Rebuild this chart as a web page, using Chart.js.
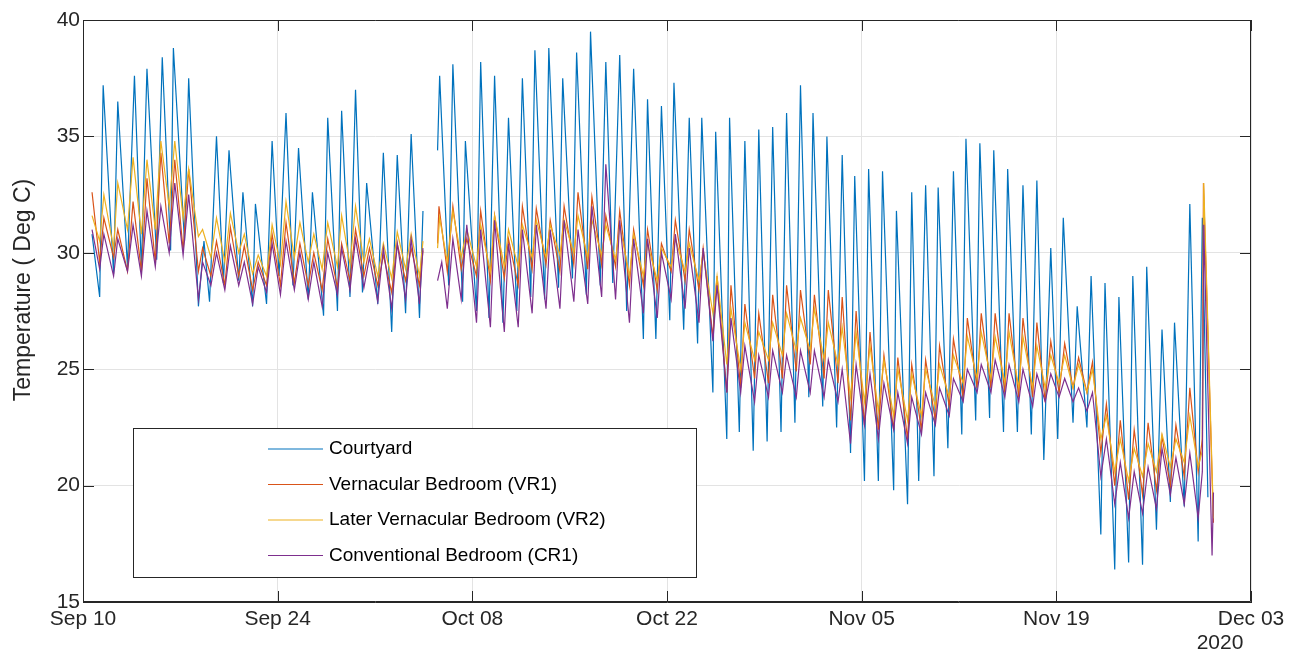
<!DOCTYPE html>
<html>
<head>
<meta charset="utf-8">
<script src="https://cdn.jsdelivr.net/npm/chart.js@4"></script>
<style>
	body { margin: 0; background: #fff; }
	canvas { display: block; }
</style>
</head>
<body>
<canvas id="chart" width="1307" height="653"></canvas>
<script>

const dateLabels = [ 'Sep 10', 'Sep 24', 'Oct 08', 'Oct 22', 'Nov 05', 'Nov 19', 'Dec 03' ];
const yearLabel = '2020';

const courtyardDays = [
	0.65, 1.2, 1.45, 2.2, 2.5, 3.2, 3.7, 4.2, 4.6, 5.3, 5.7, 6.3, 6.5, 7.3, 7.6, 8.3, 8.7, 9.1, 9.6, 10.1,
	10.5, 11.2, 11.5, 12.2, 12.4, 13.2, 13.6, 14.1, 14.6, 15.1, 15.5, 16.2, 16.5, 17.3, 17.6, 18.3, 18.6, 19.2, 19.6, 20.1,
	20.4, 21.2, 21.6, 22.2, 22.6, 23.2, 23.6, 24.2, 24.45, 25.0, 25.5, 25.65, 26.3, 26.6, 27.3, 27.5, 28.3, 28.6, 29.2, 29.6,
	30.2, 30.6, 31.2, 31.6, 32.2, 32.5, 33.2, 33.5, 34.2, 34.5, 35.2, 35.5, 36.2, 36.5, 37.2, 37.6, 38.1, 38.6, 39.1, 39.6,
	40.3, 40.6, 41.2, 41.6, 42.2, 42.5, 43.2, 43.6, 44.2, 44.5, 45.3, 45.5, 46.3, 46.5, 47.2, 47.6, 48.2, 48.6, 49.2, 49.6,
	50.2, 50.6, 51.2, 51.6, 52.2, 52.5, 53.2, 53.5, 54.2, 54.6, 55.2, 55.5, 56.2, 56.5, 57.2, 57.5, 58.3, 58.5, 59.3, 59.6,
	60.1, 60.6, 61.2, 61.5, 62.2, 62.6, 63.2, 63.5, 64.2, 64.5, 65.2, 65.5, 66.2, 66.5, 67.2, 67.6, 68.2, 68.6, 69.1, 69.6,
	70.1, 70.5, 71.2, 71.5, 72.2, 72.5, 73.2, 73.5, 74.2, 74.5, 75.2, 75.5, 76.2, 76.5, 77.2, 77.6, 78.2, 78.5, 79.2, 79.6,
	80.2, 80.5, 80.9
];
const courtyardTemps = [
	30.8, 28.1, 37.2, 29.1, 36.5, 29.4, 37.6, 29.3, 37.9, 29.7, 38.4, 30.1, 38.8, 30.5, 37.5, 27.7, 30.5, 27.9, 35.0, 28.7,
	34.4, 28.8, 32.6, 27.7, 32.1, 27.8, 34.8, 29.0, 36.0, 28.6, 34.5, 28.0, 32.6, 27.3, 35.8, 27.5, 36.1, 28.1, 37.0, 28.3,
	33.0, 27.8, 34.3, 26.6, 34.2, 27.4, 35.1, 27.2, 31.8, null, 34.4, 37.6, 28.6, 38.1, 27.9, 34.8, 27.5, 38.2, 27.2, 37.6,
	27.0, 35.8, 27.5, 37.5, 28.1, 38.7, 28.0, 38.8, 28.5, 37.5, 28.9, 38.6, 28.2, 39.5, 28.6, 38.2, 28.7, 38.5, 27.5, 37.9,
	26.3, 36.6, 26.3, 36.3, 27.1, 37.3, 26.7, 35.8, 26.1, 35.8, 24.0, 35.2, 22.0, 35.8, 22.3, 34.8, 21.5, 35.3, 21.9, 35.4,
	22.3, 36.0, 22.7, 37.2, 23.8, 36.0, 23.4, 35.0, 22.5, 34.2, 21.4, 33.3, 20.2, 33.6, 20.2, 33.5, 19.8, 31.8, 19.2, 32.6,
	20.2, 32.9, 20.4, 32.8, 21.6, 33.5, 22.2, 34.9, 22.8, 34.7, 22.9, 34.4, 22.3, 33.6, 22.3, 32.9, 22.2, 33.1, 21.1, 30.2,
	22.0, 31.5, 22.7, 27.7, 22.5, 29.0, 17.9, 28.7, 16.4, 28.1, 16.7, 29.0, 16.6, 29.4, 18.1, 26.7, 19.3, 27.0, 19.1, 32.1,
	17.6, 31.5, 19.5
];

const vr1Days = [
	0.65, 1.2, 1.5, 2.2, 2.5, 3.2, 3.6, 4.2, 4.6, 5.2, 5.6, 6.2, 6.6, 7.2, 7.6, 8.3, 8.6, 9.2, 9.6, 10.2,
	10.6, 11.2, 11.6, 12.2, 12.6, 13.2, 13.6, 14.2, 14.6, 15.2, 15.6, 16.2, 16.6, 17.2, 17.6, 18.3, 18.6, 19.2, 19.6, 20.2,
	20.6, 21.2, 21.6, 22.2, 22.6, 23.2, 23.6, 24.2, 24.45, 25.0, 25.5, 25.6, 26.2, 26.6, 27.2, 27.6, 28.3, 28.6, 29.3, 29.6,
	30.3, 30.6, 31.3, 31.6, 32.3, 32.6, 33.3, 33.6, 34.3, 34.6, 35.3, 35.6, 36.3, 36.6, 37.3, 37.6, 38.3, 38.6, 39.3, 39.6,
	40.3, 40.6, 41.3, 41.6, 42.3, 42.6, 43.3, 43.6, 44.3, 44.6, 45.3, 45.6, 46.3, 46.6, 47.3, 47.6, 48.3, 48.6, 49.3, 49.6,
	50.3, 50.6, 51.3, 51.6, 52.3, 52.6, 53.3, 53.6, 54.3, 54.6, 55.2, 55.6, 56.2, 56.6, 57.2, 57.6, 58.3, 58.6, 59.3, 59.6,
	60.3, 60.6, 61.3, 61.6, 62.3, 62.6, 63.3, 63.6, 64.3, 64.6, 65.3, 65.6, 66.3, 66.6, 67.3, 67.6, 68.3, 68.6, 69.2, 69.6,
	70.2, 70.6, 71.2, 71.6, 72.2, 72.6, 73.2, 73.6, 74.2, 74.6, 75.2, 75.6, 76.2, 76.6, 77.2, 77.6, 78.2, 78.6, 79.2, 79.6,
	80.2, 80.5, 80.58, 81.3
];
const vr1Temps = [
	32.6, 29.6, 31.5, 29.8, 31.0, 29.2, 32.2, 29.2, 33.2, 29.6, 34.3, 30.4, 34.0, 30.1, 33.6, 29.2, 30.2, 29.0, 30.5, 28.6,
	31.1, 29.0, 30.3, 28.4, 29.6, 28.6, 30.8, 28.6, 31.3, 28.7, 30.4, 28.6, 30.0, 28.4, 30.6, 28.5, 30.4, 28.8, 31.0, 29.0,
	30.2, 28.6, 29.9, 28.3, 30.4, 28.8, 30.2, 28.6, 30.1, null, 30.4, 32.0, 29.2, 32.0, 29.3, 30.6, 29.0, 31.8, 28.8, 31.6,
	28.9, 30.6, 28.6, 32.0, 29.3, 31.9, 29.5, 31.4, 29.2, 32.0, 29.5, 32.6, 29.3, 32.4, 29.5, 31.6, 29.4, 31.8, 28.6, 31.0,
	28.6, 31.0, 28.4, 30.4, 29.2, 31.4, 28.8, 31.0, 28.4, 30.2, 26.4, 29.0, 24.0, 28.6, 24.2, 27.8, 24.6, 27.4, 24.4, 28.2,
	24.6, 28.6, 24.9, 28.4, 25.2, 28.2, 24.6, 28.4, 24.4, 28.1, 22.8, 27.5, 22.6, 26.6, 22.4, 25.6, 22.4, 25.5, 22.0, 25.2,
	22.4, 25.4, 22.8, 26.0, 23.4, 26.3, 23.8, 27.2, 24.2, 27.4, 24.2, 27.4, 24.0, 27.4, 23.8, 27.2, 23.8, 27.0, 23.6, 26.2,
	24.0, 26.1, 24.2, 25.5, 24.0, 25.3, 21.4, 23.5, 20.0, 22.8, 19.4, 22.4, 19.6, 22.7, 19.8, 22.1, 20.0, 22.6, 20.4, 24.2,
	20.6, 22.0, 33.0, 18.4
];

const vr2Days = [
	0.65, 1.2, 1.5, 2.2, 2.5, 3.2, 3.6, 4.2, 4.6, 5.2, 5.6, 6.2, 6.6, 7.2, 7.6, 8.3, 8.6, 9.2, 9.6, 10.2,
	10.6, 11.2, 11.6, 12.2, 12.6, 13.2, 13.6, 14.2, 14.6, 15.2, 15.6, 16.2, 16.6, 17.2, 17.6, 18.3, 18.6, 19.2, 19.6, 20.2,
	20.6, 21.2, 21.6, 22.2, 22.6, 23.2, 23.6, 24.2, 24.45, 25.0, 25.5, 25.65, 26.2, 26.6, 27.2, 27.6, 28.3, 28.6, 29.3, 29.6,
	30.3, 30.6, 31.3, 31.6, 32.3, 32.6, 33.3, 33.6, 34.3, 34.6, 35.3, 35.6, 36.3, 36.6, 37.3, 37.6, 38.3, 38.6, 39.3, 39.6,
	40.3, 40.6, 41.3, 41.6, 42.3, 42.6, 43.3, 43.6, 44.3, 44.6, 45.3, 45.6, 46.3, 46.6, 47.3, 47.6, 48.3, 48.6, 49.3, 49.6,
	50.3, 50.6, 51.3, 51.6, 52.3, 52.6, 53.3, 53.6, 54.3, 54.6, 55.2, 55.6, 56.2, 56.6, 57.2, 57.6, 58.3, 58.6, 59.3, 59.6,
	60.3, 60.6, 61.3, 61.6, 62.3, 62.6, 63.3, 63.6, 64.3, 64.6, 65.3, 65.6, 66.3, 66.6, 67.3, 67.6, 68.3, 68.6, 69.2, 69.6,
	70.2, 70.6, 71.2, 71.6, 72.2, 72.6, 73.2, 73.6, 74.2, 74.6, 75.2, 75.6, 76.2, 76.6, 77.2, 77.6, 78.2, 78.6, 79.2, 79.6,
	80.2, 80.5, 80.6, 81.3
];
const vr2Temps = [
	31.6, 30.5, 32.5, 30.2, 33.0, 31.0, 34.1, 30.8, 34.0, 31.0, 34.8, 32.0, 34.8, 31.5, 33.6, 30.7, 31.0, 29.8, 31.5, 29.6,
	31.7, 30.0, 30.8, 29.1, 29.9, 29.0, 31.2, 29.5, 32.2, 29.8, 31.3, 29.6, 30.8, 29.3, 31.3, 29.4, 31.6, 29.5, 32.0, 29.6,
	30.6, 29.0, 30.4, 28.9, 30.9, 29.3, 30.8, 29.0, 30.5, null, 30.2, 31.5, 29.6, 31.8, 29.8, 31.0, 29.4, 31.2, 29.2, 31.6,
	29.4, 31.0, 29.4, 31.2, 29.8, 31.4, 29.8, 31.2, 29.9, 31.4, 30.0, 31.6, 29.8, 31.4, 29.9, 31.2, 29.7, 31.2, 29.0, 30.8,
	29.0, 30.4, 28.8, 30.2, 29.4, 30.6, 29.2, 30.4, 28.8, 30.0, 27.4, 29.0, 25.2, 27.6, 25.0, 27.0, 25.4, 26.6, 25.4, 27.0,
	25.6, 27.4, 25.8, 27.2, 25.8, 27.6, 25.4, 27.0, 25.2, 26.8, 23.8, 26.6, 23.6, 26.0, 23.2, 25.4, 23.0, 25.0, 22.8, 24.8,
	23.0, 25.0, 23.4, 25.2, 23.8, 25.6, 24.4, 26.4, 24.6, 26.6, 24.6, 26.4, 24.4, 26.6, 24.2, 26.4, 24.2, 26.0, 24.2, 25.6,
	24.4, 25.6, 24.2, 25.2, 24.0, 25.0, 22.0, 23.0, 20.6, 22.0, 20.2, 21.6, 20.4, 21.8, 20.6, 22.2, 20.8, 22.0, 21.0, 23.0,
	20.8, 21.5, 33.0, 18.6
];

const cr1Days = [
	0.65, 1.2, 1.5, 2.2, 2.5, 3.2, 3.6, 4.2, 4.6, 5.2, 5.6, 6.2, 6.6, 7.2, 7.6, 8.3, 8.6, 9.2, 9.6, 10.2,
	10.6, 11.2, 11.6, 12.2, 12.6, 13.2, 13.6, 14.2, 14.6, 15.2, 15.6, 16.2, 16.6, 17.2, 17.6, 18.3, 18.6, 19.2, 19.6, 20.2,
	20.6, 21.2, 21.6, 22.2, 22.6, 23.2, 23.6, 24.2, 24.45, 25.0, 25.5, 25.8, 26.2, 26.6, 27.2, 27.6, 28.3, 28.6, 29.3, 29.6,
	30.3, 30.6, 31.3, 31.6, 32.3, 32.6, 33.3, 33.6, 34.3, 34.6, 35.3, 35.6, 36.3, 36.6, 37.3, 37.6, 38.3, 38.6, 39.3, 39.6,
	40.3, 40.6, 41.3, 41.6, 42.3, 42.6, 43.3, 43.6, 44.3, 44.6, 45.3, 45.6, 46.3, 46.6, 47.3, 47.6, 48.3, 48.6, 49.3, 49.6,
	50.3, 50.6, 51.3, 51.6, 52.3, 52.6, 53.3, 53.6, 54.3, 54.6, 55.2, 55.6, 56.2, 56.6, 57.2, 57.6, 58.3, 58.6, 59.3, 59.6,
	60.3, 60.6, 61.3, 61.6, 62.3, 62.6, 63.3, 63.6, 64.3, 64.6, 65.3, 65.6, 66.3, 66.6, 67.3, 67.6, 68.3, 68.6, 69.2, 69.6,
	70.2, 70.6, 71.2, 71.6, 72.2, 72.6, 73.2, 73.6, 74.2, 74.6, 75.2, 75.6, 76.2, 76.6, 77.2, 77.6, 78.2, 78.6, 79.2, 79.6,
	80.2, 80.5, 80.6, 81.2, 81.3
];
const cr1Temps = [
	31.0, 29.3, 30.8, 29.0, 30.6, 29.2, 31.2, 29.0, 31.8, 29.4, 32.0, 30.0, 33.0, 29.9, 32.5, 28.0, 29.6, 28.6, 30.0, 28.4,
	30.3, 28.6, 29.6, 27.8, 29.4, 28.3, 30.4, 28.2, 30.5, 28.4, 30.0, 28.0, 29.6, 27.7, 30.0, 28.2, 30.2, 28.4, 30.6, 28.5,
	29.8, 27.9, 30.2, 27.6, 30.4, 28.0, 30.6, 27.8, 30.2, null, 28.8, 29.6, 27.6, 30.6, 28.0, 31.2, 27.0, 31.0, 26.8, 31.4,
	26.6, 30.4, 26.8, 31.0, 27.4, 31.2, 27.6, 31.0, 27.6, 31.4, 27.9, 31.0, 27.8, 32.0, 28.1, 33.8, 28.0, 31.4, 27.0, 30.6,
	27.4, 30.6, 27.2, 30.0, 28.0, 30.8, 27.6, 30.2, 27.0, 30.2, 26.2, 28.6, 24.0, 27.2, 24.0, 26.0, 23.6, 25.6, 23.8, 25.8,
	24.0, 25.6, 23.8, 25.8, 24.0, 25.8, 23.8, 25.4, 23.6, 25.0, 21.8, 25.2, 22.6, 24.8, 22.0, 24.4, 22.4, 24.0, 21.8, 23.8,
	22.2, 24.0, 22.6, 24.2, 23.0, 24.6, 23.6, 25.0, 24.0, 25.2, 24.0, 25.4, 23.8, 25.2, 23.6, 25.0, 23.4, 24.8, 23.6, 24.8,
	23.8, 24.6, 23.6, 24.2, 23.2, 24.0, 20.4, 22.0, 19.2, 21.0, 18.6, 20.6, 18.8, 20.8, 19.0, 21.6, 19.6, 21.2, 19.2, 21.4,
	18.6, 20.6, 31.2, 17.0, 19.7
];

const seriesNames = [ 'Courtyard', 'Vernacular Bedroom (VR1)', 'Later Vernacular Bedroom (VR2)', 'Conventional Bedroom (CR1)' ];
const seriesColours = [ '#0072BD', '#D95319', '#EDB120', '#7E2F8E' ];

const fontFamily = '"Liberation Sans", Arial, Helvetica, sans-serif';
const ink = '#262626';

function points ( days, temps ) {

	return days.map( ( d, i ) => ( { x: d, y: temps[ i ] } ) );

}

const allDays = [ courtyardDays, vr1Days, vr2Days, cr1Days ];
const allTemps = [ courtyardTemps, vr1Temps, vr2Temps, cr1Temps ];

// matlab style: box, inward ticks, year under the last tick, legend inside axes
const matlabFrame = {
	id: 'matlabFrame',
	afterDraw ( chart ) {

		const ctx = chart.ctx;
		const area = chart.chartArea;
		const xs = chart.scales.x;
		const ys = chart.scales.y;
		const tick = 11;

		ctx.save();
		ctx.strokeStyle = ink;
		ctx.lineWidth = 1;

		ctx.beginPath();
		ctx.rect( area.left + 0.5, area.top + 0.5, area.right - area.left - 1, area.bottom - area.top - 1 );
		ctx.stroke();

		ctx.beginPath();
		xs.ticks.forEach( t => {

			const px = Math.round( xs.getPixelForValue( t.value ) ) + 0.5;
			ctx.moveTo( px, area.bottom );
			ctx.lineTo( px, area.bottom - tick );
			ctx.moveTo( px, area.top );
			ctx.lineTo( px, area.top + tick );

		} );
		ys.ticks.forEach( t => {

			const py = Math.round( ys.getPixelForValue( t.value ) ) + 0.5;
			ctx.moveTo( area.left, py );
			ctx.lineTo( area.left + tick, py );
			ctx.moveTo( area.right, py );
			ctx.lineTo( area.right - tick, py );

		} );
		ctx.stroke();

		ctx.fillStyle = ink;
		ctx.font = '21px ' + fontFamily;
		ctx.textAlign = 'center';
		ctx.textBaseline = 'middle';
		ctx.fillText( yearLabel, xs.getPixelForValue( 84 ) - 31, 643 );

		ctx.save();
		ctx.translate( 24, 290 );
		ctx.rotate( - Math.PI / 2 );
		ctx.font = '23px ' + fontFamily;
		ctx.fillText( 'Temperature ( Deg C)', 0, 0 );
		ctx.restore();

		const box = { left: 133, top: 428, right: 696, bottom: 577 };
		ctx.fillStyle = '#ffffff';
		ctx.fillRect( box.left, box.top, box.right - box.left, box.bottom - box.top );
		ctx.strokeStyle = ink;
		ctx.strokeRect( box.left + 0.5, box.top + 0.5, box.right - box.left, box.bottom - box.top );

		ctx.font = '19px ' + fontFamily;
		ctx.textAlign = 'left';
		chart.data.datasets.forEach( ( ds, i ) => {

			const y = 449 + i * 35.5;
			ctx.strokeStyle = ds.borderColor;
			ctx.lineWidth = 1.2;
			ctx.beginPath();
			ctx.moveTo( 268, y );
			ctx.lineTo( 323, y );
			ctx.stroke();
			ctx.fillStyle = '#000000';
			ctx.fillText( ds.label, 329, y );

		} );

		ctx.restore();

	}
};

new Chart( document.getElementById( 'chart' ), {
	type: 'line',
	data: {
		datasets: seriesNames.map( ( name, i ) => ( {
			label: name,
			data: points( allDays[ i ], allTemps[ i ] ),
			borderColor: seriesColours[ i ],
			backgroundColor: seriesColours[ i ],
			borderWidth: 1.2,
			pointRadius: 0,
			tension: 0,
			spanGaps: false,
			order: 4 - i
		} ) )
	},
	options: {
		responsive: false,
		animation: false,
		layout: {
			padding: { top: 20, right: 56, left: 0, bottom: 0 }
		},
		plugins: {
			legend: { display: false },
			tooltip: { enabled: false }
		},
		scales: {
			x: {
				type: 'linear',
				min: 0,
				max: 84,
				afterFit: scale => { scale.height = 51; },
				ticks: {
					stepSize: 14,
					autoSkip: false,
					maxRotation: 0,
					padding: 5,
					color: ink,
					font: { size: 21, family: fontFamily },
					callback: v => dateLabels[ Math.round( v / 14 ) ]
				},
				grid: { color: '#e3e3e3', drawTicks: false },
				border: { color: ink }
			},
			y: {
				min: 15,
				max: 40,
				afterFit: scale => { scale.width = 83; },
				ticks: {
					stepSize: 5,
					padding: 3,
					color: ink,
					font: { size: 21, family: fontFamily }
				},
				grid: { color: '#e3e3e3', drawTicks: false },
				border: { color: ink }
			}
		}
	},
	plugins: [ matlabFrame ]
} );

</script>
</body>
</html>
